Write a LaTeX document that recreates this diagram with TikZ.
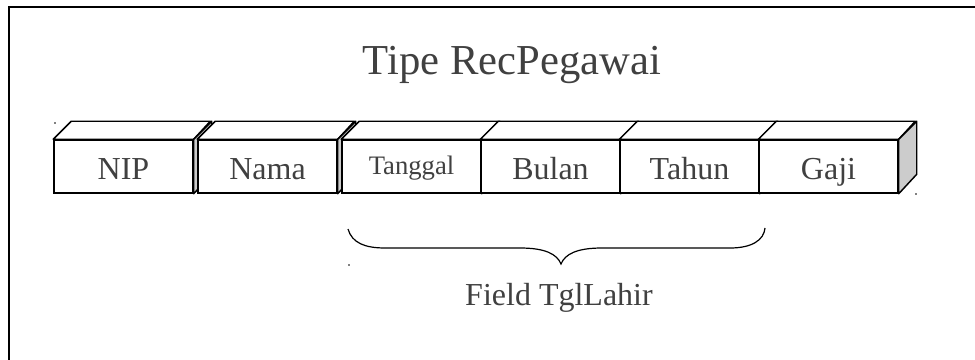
\documentclass[tikz,border=0pt]{standalone}
\usepackage{fontspec}
\setmainfont{Liberation Serif}
\definecolor{labelgray}{RGB}{64,64,64}
\definecolor{sidegray}{RGB}{204,204,204}

\tikzset{every picture/.style={line width=1.1pt}}
\tikzset{fieldbox/.style={draw, fill=white, inner sep=0pt, minimum width=104.25pt, minimum height=39.75pt,
    text=labelgray, font=\fontsize{24}{28}\selectfont, text height=20pt, text depth=0pt}}
\tikzset{topface/.style={fill=white, line join=round}}
\tikzset{sideface/.style={fill=sidegray, line join=round}}

\begin{document}
\begin{tikzpicture}[x=0.75pt,y=0.75pt,yscale=-1,xscale=1]
\path[use as bounding box] (0,0) rectangle (975,360);

%Frame
\draw [line width=1.2pt] (9,360) -- (9,7) -- (975,7) ;

% Text Node
\draw (512,75) node (title) [anchor=base, text=labelgray, font=\fontsize{32}{38}\selectfont] {Tipe RecPegawai};

%Shape: Box NIP
\node (nip) [fieldbox] at (123.5,166.5) {NIP};
\draw [topface] (nip.north west) -- ++(18,-18) -- ++(139,0) -- (nip.north east) -- cycle ;
\draw [sideface] (nip.north east) -- ++(18,-18) -- ++(0,53) -- (nip.south east) -- cycle ;
%Shape: Box Nama
\node (nama) [fieldbox] at (267.5,166.5) {Nama};
\draw [topface] (nama.north west) -- ++(18,-18) -- ++(139,0) -- (nama.north east) -- cycle ;
\draw [sideface] (nama.north east) -- ++(18,-18) -- ++(0,53) -- (nama.south east) -- cycle ;
%Shape: Box Tanggal
\node (tanggal) [fieldbox, font=\fontsize{20}{24}\selectfont, text height=11.25pt] at (411.5,166.5) {Tanggal};
\draw [topface] (tanggal.north west) -- ++(18,-18) -- ++(139,0) -- (tanggal.north east) -- cycle ;
\draw [sideface] (tanggal.north east) -- ++(18,-18) -- ++(0,53) -- (tanggal.south east) -- cycle ;
%Shape: Box Bulan
\node (bulan) [fieldbox] at (550.5,166.5) {Bulan};
\draw [topface] (bulan.north west) -- ++(18,-18) -- ++(139,0) -- (bulan.north east) -- cycle ;
\draw [sideface] (bulan.north east) -- ++(18,-18) -- ++(0,53) -- (bulan.south east) -- cycle ;
%Shape: Box Tahun
\node (tahun) [fieldbox] at (689.5,166.5) {Tahun};
\draw [topface] (tahun.north west) -- ++(18,-18) -- ++(139,0) -- (tahun.north east) -- cycle ;
\draw [sideface] (tahun.north east) -- ++(18,-18) -- ++(0,53) -- (tahun.south east) -- cycle ;
%Shape: Box Gaji
\node (gaji) [fieldbox] at (828.5,166.5) {Gaji};
\draw [topface] (gaji.north west) -- ++(18,-18) -- ++(139,0) -- (gaji.north east) -- cycle ;
\draw [sideface] (gaji.north east) -- ++(18,-18) -- ++(0,53) -- (gaji.south east) -- cycle ;

%Curve Lines: brace
\draw [line width=0.9pt] (348,229) .. controls (352,243) and (365,248) .. (385,248) -- (520,248) .. controls (545,248) and (557,254) .. (561,264) .. controls (565,254) and (577,248) .. (602,248) -- (730,248) .. controls (752,248) and (764,240) .. (765,228) ;

% Text Node
\draw (559,305) node (tgllahir) [anchor=base, text=labelgray, font=\fontsize{24}{28}\selectfont] {Field TglLahir};

%Dots
\fill (55,123) circle (0.8) ;
\fill (916,194) circle (0.8) ;
\fill (349,265) circle (0.8) ;

\end{tikzpicture}
\end{document}
